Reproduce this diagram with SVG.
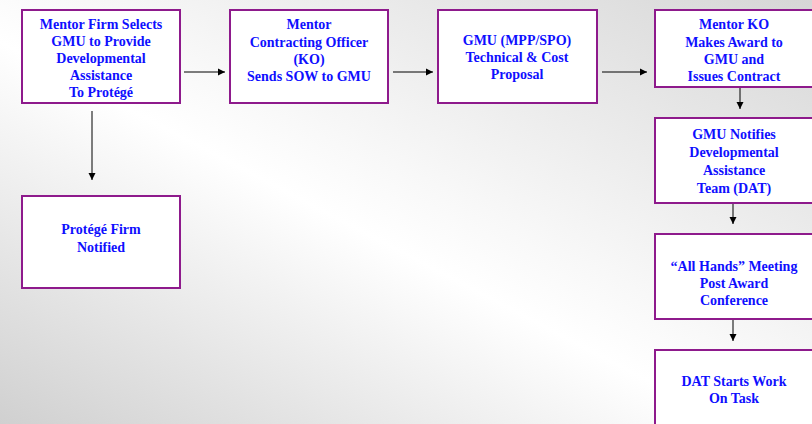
<svg xmlns="http://www.w3.org/2000/svg" width="812" height="424" viewBox="0 0 812 424">
<defs>
<linearGradient id="bg" gradientUnits="userSpaceOnUse" x1="232" y1="545" x2="580" y2="-121">
<stop offset="0" stop-color="#d0d0d0"/>
<stop offset="0.45" stop-color="#ffffff"/>
<stop offset="0.55" stop-color="#f8f8f8"/>
<stop offset="1" stop-color="#d6d6d6"/>
</linearGradient>
<marker id="ah" markerWidth="8" markerHeight="8" refX="7" refY="4" orient="auto" markerUnits="userSpaceOnUse">
<path d="M0,0.5 L7,4 L0,7.5 Z" fill="#000"/>
</marker>
</defs>
<style>
.box{fill:#ffffff;stroke:#8e1a8c;stroke-width:2}
.t{font-family:"Liberation Serif","Times New Roman",serif;font-weight:bold;font-size:14px;fill:#0f0fff;text-anchor:middle}
.c{stroke:#000;stroke-width:1;fill:none;marker-end:url(#ah)}
</style>
<rect width="812" height="424" fill="url(#bg)"/>
<g id="connectors">
<line class="c" x1="184" y1="72" x2="225" y2="72"/>
<line class="c" x1="393" y1="72" x2="433" y2="72"/>
<line class="c" x1="602" y1="72" x2="647" y2="72"/>
<line class="c" x1="92" y1="111" x2="92" y2="180"/>
<line class="c" x1="740" y1="88" x2="740" y2="109"/>
<line class="c" x1="733" y1="204" x2="733" y2="224"/>
<line class="c" x1="733" y1="320" x2="733" y2="341"/>
</g>
<g id="n1">
<rect class="box" x="22" y="10" width="158" height="93"/>
<text class="t" x="101" y="29">Mentor Firm Selects</text>
<text class="t" x="101" y="46">GMU to Provide</text>
<text class="t" x="101" y="63">Developmental</text>
<text class="t" x="101" y="80">Assistance</text>
<text class="t" x="101" y="97">To Protégé</text>
</g>
<g id="n2">
<rect class="box" x="230" y="10" width="158" height="93"/>
<text class="t" x="309" y="29">Mentor</text>
<text class="t" x="309" y="47">Contracting Officer</text>
<text class="t" x="309" y="64">(KO)</text>
<text class="t" x="309" y="81">Sends SOW to GMU</text>
</g>
<g id="n3">
<rect class="box" x="438" y="10" width="159" height="93"/>
<text class="t" x="517" y="45">GMU (MPP/SPO)</text>
<text class="t" x="517" y="62">Technical &amp; Cost</text>
<text class="t" x="517" y="79">Proposal</text>
</g>
<g id="n4">
<rect class="box" x="655" y="10" width="158" height="77"/>
<text class="t" x="734" y="29">Mentor KO</text>
<text class="t" x="734" y="47">Makes Award to</text>
<text class="t" x="734" y="64">GMU and</text>
<text class="t" x="734" y="81">Issues Contract</text>
</g>
<g id="n5">
<rect class="box" x="655" y="118" width="158" height="85"/>
<text class="t" x="734" y="139">GMU Notifies</text>
<text class="t" x="734" y="157">Developmental</text>
<text class="t" x="734" y="175">Assistance</text>
<text class="t" x="734" y="193">Team (DAT)</text>
</g>
<g id="n6">
<rect class="box" x="655" y="234" width="158" height="85"/>
<text class="t" x="734" y="271">“All Hands” Meeting</text>
<text class="t" x="734" y="288">Post Award</text>
<text class="t" x="734" y="305">Conference</text>
</g>
<g id="n7">
<rect class="box" x="655" y="350" width="158" height="85"/>
<text class="t" x="734" y="386">DAT Starts Work</text>
<text class="t" x="734" y="403">On Task</text>
</g>
<g id="n8">
<rect class="box" x="22" y="196" width="158" height="92"/>
<text class="t" x="101" y="234">Protégé Firm</text>
<text class="t" x="101" y="252">Notified</text>
</g>
</svg>
